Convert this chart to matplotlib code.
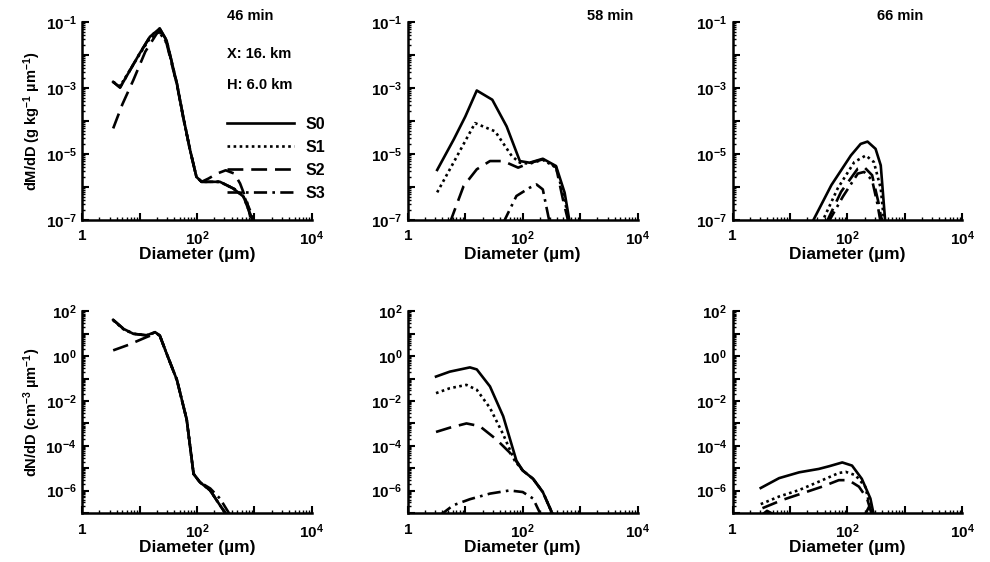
import matplotlib
matplotlib.use('Agg')
import matplotlib.pyplot as plt
import numpy as np

plt.rcParams['font.family'] = ['Liberation Sans', 'DejaVu Sans']
plt.rcParams['font.weight'] = 'bold'
plt.rcParams['mathtext.fontset'] = 'custom'
plt.rcParams['mathtext.rm'] = 'Liberation Sans:bold'
plt.rcParams['mathtext.bf'] = 'Liberation Sans:bold'
plt.rcParams['mathtext.it'] = 'Liberation Sans:bold:italic'

# ---- data (log10 of diameter in um, log10 of value) ----
# top row: dM/dD, bottom row: dN/dD; columns: 46, 58, 66 min
series_names = ['S0', 'S1', 'S2', 'S3']
times = ['46 min', '58 min', '66 min']

# dM/dD, 46 min
m46_x = {
    'S0': [0.54, 0.66, 1.0, 1.18, 1.35, 1.47, 1.65, 1.76, 1.88, 1.99, 2.08, 2.4, 2.63, 2.81, 2.92, 2.98],
    'S1': [0.54, 0.66, 1.0, 1.18, 1.33, 1.47, 1.65, 1.76, 1.88, 1.99, 2.08, 2.4, 2.63, 2.81, 2.92, 2.98],
    'S2': [0.54, 0.7, 0.89, 1.1, 1.3, 1.35, 1.47, 1.65, 1.76, 1.88, 1.99, 2.08, 2.2, 2.35, 2.5, 2.65, 2.75, 2.87, 2.95],
    'S3': [0.54, 0.66, 1.0, 1.18, 1.35, 1.47, 1.65, 1.76, 1.88, 1.99, 2.08, 2.4, 2.63, 2.75, 2.81, 2.92, 3.0],
}
m46_y = {
    'S0': [-2.82, -2.99, -1.96, -1.45, -1.2, -1.56, -2.87, -3.88, -4.89, -5.7, -5.85, -5.85, -6.05, -6.3, -6.8, -7.1],
    'S1': [-2.82, -2.95, -1.98, -1.5, -1.3, -1.6, -2.9, -3.9, -4.9, -5.7, -5.85, -5.85, -6.05, -6.3, -6.8, -7.1],
    'S2': [-4.23, -3.5, -2.77, -1.9, -1.35, -1.3, -1.65, -2.9, -3.9, -4.9, -5.7, -5.85, -5.75, -5.6, -5.5, -5.6, -5.9, -6.45, -7.1],
    'S3': [-2.82, -2.99, -1.96, -1.45, -1.2, -1.56, -2.87, -3.88, -4.89, -5.7, -5.85, -5.85, -6.05, -6.15, -6.25, -6.7, -7.1],
}
# dM/dD, 58 min
m58_x = {
    'S0': [0.51, 0.8, 1.0, 1.2, 1.47, 1.72, 1.95, 2.12, 2.35, 2.58, 2.73, 2.82],
    'S1': [0.51, 0.8, 1.0, 1.17, 1.52, 1.81, 1.95, 2.12, 2.35, 2.58, 2.72, 2.81],
    'S2': [0.73, 0.97, 1.2, 1.43, 1.66, 1.92, 2.12, 2.35, 2.58, 2.7, 2.8],
    'S3': [1.66, 1.89, 2.12, 2.24, 2.35, 2.47],
}
m58_y = {
    'S0': [-5.49, -4.56, -3.87, -3.08, -3.36, -4.17, -5.22, -5.27, -5.15, -5.37, -6.18, -7.1],
    'S1': [-6.17, -5.25, -4.61, -4.07, -4.32, -5.07, -5.27, -5.3, -5.18, -5.42, -6.3, -7.1],
    'S2': [-7.1, -5.98, -5.47, -5.22, -5.22, -5.42, -5.28, -5.17, -5.4, -6.38, -7.1],
    'S3': [-7.1, -6.28, -6.03, -5.93, -6.08, -7.1],
}
# dM/dD, 66 min
m66_x = {
    'S0': [1.38, 1.72, 2.06, 2.23, 2.35, 2.49, 2.58, 2.66],
    'S1': [1.55, 1.83, 2.12, 2.32, 2.46, 2.58, 2.64],
    'S2': [1.63, 1.89, 2.18, 2.29, 2.43, 2.55, 2.6],
    'S3': [1.66, 1.92, 2.18, 2.29, 2.43, 2.52, 2.58],
}
m66_y = {
    'S0': [-7.1, -5.95, -5.05, -4.7, -4.63, -4.85, -5.35, -7.1],
    'S1': [-7.1, -6.05, -5.25, -5.05, -5.25, -6.05, -7.1],
    'S2': [-7.1, -6.15, -5.45, -5.4, -5.65, -6.55, -7.1],
    'S3': [-7.1, -6.3, -5.6, -5.55, -5.8, -6.5, -7.1],
}
# dN/dD, 46 min
n46_x = {
    'S0': [0.54, 0.72, 0.89, 1.12, 1.27, 1.35, 1.47, 1.65, 1.82, 1.94, 2.05, 2.23, 2.4, 2.52],
    'S1': [0.54, 0.72, 0.89, 1.12, 1.27, 1.35, 1.47, 1.65, 1.82, 1.94, 2.05, 2.23, 2.4, 2.52],
    'S2': [0.54, 0.8, 1.12, 1.27, 1.35, 1.47, 1.65, 1.82, 1.94, 2.05, 2.23, 2.4, 2.52],
    'S3': [0.54, 0.72, 0.89, 1.12, 1.27, 1.35, 1.47, 1.65, 1.82, 1.94, 2.05, 2.23, 2.4, 2.58],
}
n46_y = {
    'S0': [1.62, 1.22, 1.0, 0.93, 1.07, 0.93, 0.12, -1.06, -2.82, -5.25, -5.62, -5.99, -6.65, -7.1],
    'S1': [1.6, 1.2, 1.0, 0.93, 1.05, 0.93, 0.12, -1.06, -2.82, -5.25, -5.62, -5.99, -6.65, -7.1],
    'S2': [0.26, 0.5, 0.85, 1.0, 0.93, 0.12, -1.06, -2.82, -5.25, -5.62, -5.99, -6.65, -7.1],
    'S3': [1.62, 1.22, 1.0, 0.93, 1.07, 0.93, 0.12, -1.06, -2.82, -5.25, -5.62, -5.9, -6.35, -7.1],
}
# dN/dD, 58 min
n58_x = {
    'S0': [0.49, 0.73, 1.08, 1.2, 1.43, 1.66, 1.89, 2.0, 2.18, 2.35, 2.53],
    'S1': [0.49, 0.73, 1.02, 1.2, 1.43, 1.66, 1.86, 2.0, 2.18, 2.35, 2.53],
    'S2': [0.49, 0.73, 1.02, 1.25, 1.54, 1.77, 1.89, 2.0, 2.18, 2.35, 2.53],
    'S3': [0.56, 0.79, 1.08, 1.43, 1.77, 2.0, 2.18, 2.32],
}
n58_y = {
    'S0': [-0.91, -0.69, -0.5, -0.59, -1.35, -2.68, -4.66, -5.1, -5.47, -6.06, -7.1],
    'S1': [-1.65, -1.43, -1.28, -1.5, -2.31, -3.49, -4.66, -5.1, -5.47, -6.06, -7.1],
    'S2': [-3.38, -3.19, -3.0, -3.12, -3.71, -4.29, -4.7, -5.1, -5.47, -6.06, -7.1],
    'S3': [-7.1, -6.65, -6.38, -6.13, -5.99, -6.06, -6.35, -7.1],
}
# dN/dD, 66 min
n66_x = {
    'S0': [0.49, 0.81, 1.16, 1.5, 1.68, 1.91, 2.08, 2.25, 2.4, 2.46],
    'S1': [0.49, 0.81, 1.16, 1.5, 1.85, 1.97, 2.14, 2.31, 2.43],
    'S2': [0.52, 0.87, 1.21, 1.56, 1.85, 2.02, 2.2, 2.34, 2.43],
    'S3': [0.5, 0.6, 0.75, 2.3, 2.38, 2.43],
}
n66_y = {
    'S0': [-5.88, -5.44, -5.18, -5.03, -4.91, -4.74, -4.88, -5.47, -6.35, -7.1],
    'S1': [-6.6, -6.26, -5.97, -5.6, -5.21, -5.16, -5.31, -5.82, -7.1],
    'S2': [-6.78, -6.41, -6.12, -5.82, -5.53, -5.53, -5.82, -6.34, -7.1],
    'S3': [-7.1, -6.9, -7.1, -7.1, -6.7, -7.1],
}

top_panels = [(m46_x, m46_y), (m58_x, m58_y), (m66_x, m66_y)]
bot_panels = [(n46_x, n46_y), (n58_x, n58_y), (n66_x, n66_y)]

# every decade gets a tick, only every other one a label
top_yticks = [1e-7, 1e-6, 1e-5, 1e-4, 1e-3, 1e-2, 1e-1]
top_ylabels = [r'$10^{-7}$', '', r'$10^{-5}$', '', r'$10^{-3}$', '', r'$10^{-1}$']
bot_yticks = [1e-7, 1e-6, 1e-5, 1e-4, 1e-3, 1e-2, 1e-1, 1e0, 1e1, 1e2]
bot_ylabels = ['', r'$10^{-6}$', '', r'$10^{-4}$', '', r'$10^{-2}$', '', r'$10^{0}$', '', r'$10^{2}$']
xticks = [1, 1e1, 1e2, 1e3, 1e4]
xlabels = ['1', '', r'$10^{2}$', '', r'$10^{4}$']

styles = {
    'S0': dict(ls='-'),
    'S1': dict(ls=(0, (1, 1.3))),
    'S2': dict(ls=(0, (6, 3))),
    'S3': dict(ls=(0, (5, 2, 1, 2))),
}

fig = plt.figure(figsize=(9.9, 5.62), dpi=100)
lefts = [0.083, 0.412, 0.740]
W = 0.232


def style_axes(ax, ylim, yticks, ylabels):
    ax.set_xscale('log')
    ax.set_yscale('log')
    ax.set_xlim(1, 1e4)
    ax.set_ylim(*ylim)
    for s in ['top', 'right']:
        ax.spines[s].set_visible(False)
    for s in ['left', 'bottom']:
        ax.spines[s].set_linewidth(1.8)
    ax.set_xticks(xticks)
    ax.set_xticklabels(xlabels)
    ax.set_yticks(yticks)
    ax.set_yticklabels(ylabels)
    ax.yaxis.set_minor_locator(matplotlib.ticker.LogLocator(base=10, subs=np.arange(2, 10), numticks=30))
    ax.xaxis.set_minor_locator(matplotlib.ticker.LogLocator(base=10, subs=np.arange(2, 10), numticks=30))
    ax.yaxis.set_minor_formatter(matplotlib.ticker.NullFormatter())
    ax.xaxis.set_minor_formatter(matplotlib.ticker.NullFormatter())
    ax.tick_params(which='major', direction='in', length=5, width=1.5, labelsize=11)
    ax.tick_params(which='minor', direction='in', length=2.5, width=1.0)
    ax.tick_params(axis='y', which='major', pad=4)
    ax.tick_params(axis='x', which='major', pad=7)
    ax.set_xlabel('Diameter (µm)', fontsize=12.5, fontweight='bold', labelpad=-1)


for i, (px, py) in enumerate(top_panels):
    ax = fig.add_axes([lefts[i], 0.609, W, 0.352])
    for name in series_names:
        ax.plot(10 ** np.array(px[name]), 10 ** np.array(py[name]),
                color='black', lw=1.9, label=name, **styles[name])
    style_axes(ax, (1e-7, 1e-1), top_yticks, top_ylabels)
    if i == 0:
        ax.set_ylabel('dM/dD (g kg$^{-1}$ µm$^{-1}$)', fontsize=10.5, fontweight='bold', labelpad=2)
        ax.text(0.63, 1.03, times[i], transform=ax.transAxes, fontsize=10.5, fontweight='bold', va='center')
        ax.text(0.63, 0.84, 'X: 16. km', transform=ax.transAxes, fontsize=10.5, fontweight='bold', va='center')
        ax.text(0.63, 0.68, 'H: 6.0 km', transform=ax.transAxes, fontsize=10.5, fontweight='bold', va='center')
        ax.legend(loc='upper left', bbox_to_anchor=(0.63, 0.52), frameon=False,
                  handlelength=4.2, handletextpad=0.7, labelspacing=0.5,
                  borderpad=0, borderaxespad=0, prop={'size': 11.5, 'weight': 'bold'})
    else:
        xpos = 0.78 if i == 1 else 0.63
        ax.text(xpos, 1.03, times[i], transform=ax.transAxes, fontsize=10.5, fontweight='bold', va='center')

for i, (px, py) in enumerate(bot_panels):
    ax = fig.add_axes([lefts[i], 0.087, W, 0.359])
    for name in series_names:
        ax.plot(10 ** np.array(px[name]), 10 ** np.array(py[name]),
                color='black', lw=1.9, **styles[name])
    style_axes(ax, (1e-7, 1e2), bot_yticks, bot_ylabels)
    if i == 0:
        ax.set_ylabel('dN/dD (cm$^{-3}$ µm$^{-1}$)', fontsize=10.5, fontweight='bold', labelpad=2)

fig.savefig('out.png', dpi=100)
